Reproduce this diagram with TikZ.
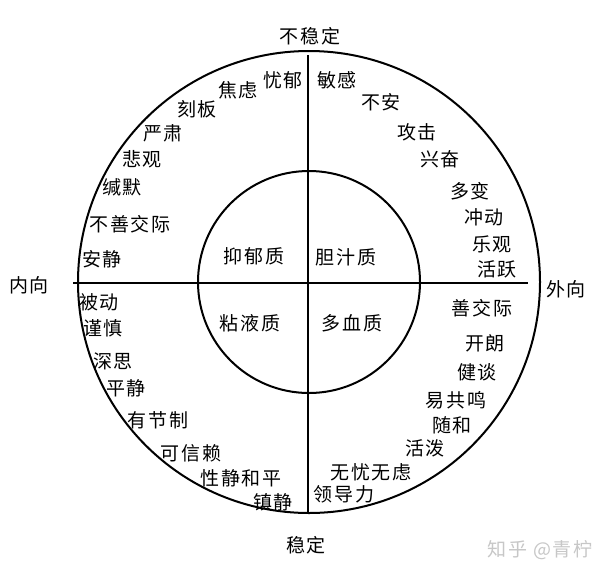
\documentclass[tikz,border=0pt]{standalone}
\usepackage{fontspec}
\newfontfamily\cjk[LetterSpace=8]{Noto Sans CJK SC}
\begin{document}
\begin{tikzpicture}[x=1pt,y=-1pt,
  lbl/.style={font=\cjk\fontsize{19}{19}\selectfont, inner sep=0pt},
  circ/.style={line width=2pt},
  axis/.style={line width=1.5pt}]
\useasboundingbox[fill=white] (0,0) rectangle (601,573);
\coordinate (c) at (309,282);
\draw[circ] (c) circle[radius=231];
\draw[circ] (c) circle[radius=111];
\coordinate (hl) at (73,283);
\coordinate (hr) at (528,283);
\coordinate (vt) at (308,55);
\coordinate (vb) at (308,513);
\draw[axis] (hl) -- (hr);
\draw[axis] (vt) -- (vb);
% axis labels
\node[lbl] (top) at (310,36) {不稳定};
\node[lbl] (bot) at (306,545) {稳定};
\node[lbl] (lft) at (29,285) {内向};
\node[lbl] (rgt) at (566,289) {外向};
% inner
\node[lbl] (q1) at (254,256) {抑郁质};
\node[lbl] (q2) at (346,257) {胆汁质};
\node[lbl] (q3) at (250,323) {粘液质};
\node[lbl] (q4) at (352,323) {多血质};
% top-left
\node[lbl] (a1) at (283,80) {忧郁};
\node[lbl] (a2) at (238,90) {焦虑};
\node[lbl] (a3) at (197,109) {刻板};
\node[lbl] (a4) at (163,133) {严肃};
\node[lbl] (a5) at (142,159) {悲观};
\node[lbl] (a6) at (122,187) {缄默};
\node[lbl] (a7) at (130,224) {不善交际};
\node[lbl] (a8) at (102,259) {安静};
% top-right
\node[lbl] (b1) at (337,80) {敏感};
\node[lbl] (b2) at (381,102) {不安};
\node[lbl] (b3) at (417,132) {攻击};
\node[lbl] (b4) at (440,159) {兴奋};
\node[lbl] (b5) at (470,191) {多变};
\node[lbl] (b6) at (484,217) {冲动};
\node[lbl] (b7) at (492,244) {乐观};
\node[lbl] (b8) at (497,269) {活跃};
% bottom-left
\node[lbl] (d1) at (99,302) {被动};
\node[lbl] (d2) at (103,328) {谨慎};
\node[lbl] (d3) at (113,361) {深思};
\node[lbl] (d4) at (126,388) {平静};
\node[lbl] (d5) at (158,420) {有节制};
\node[lbl] (d6) at (191,453) {可信赖};
\node[lbl] (d7) at (241,478) {性静和平};
\node[lbl] (d8) at (273,502) {镇静};
% bottom-right
\node[lbl] (e1) at (482,308) {善交际};
\node[lbl] (e2) at (485,343) {开朗};
\node[lbl] (e3) at (477,372) {健谈};
\node[lbl] (e4) at (456,400) {易共鸣};
\node[lbl] (e5) at (452,425) {随和};
\node[lbl] (e6) at (425,448) {活泼};
\node[lbl] (e7) at (371,472) {无忧无虑};
\node[lbl] (e8) at (344,494) {领导力};
% watermark
\node[lbl, text=black!22] (wm) at (540,550) {知乎 @青柠};
\end{tikzpicture}
\end{document}
